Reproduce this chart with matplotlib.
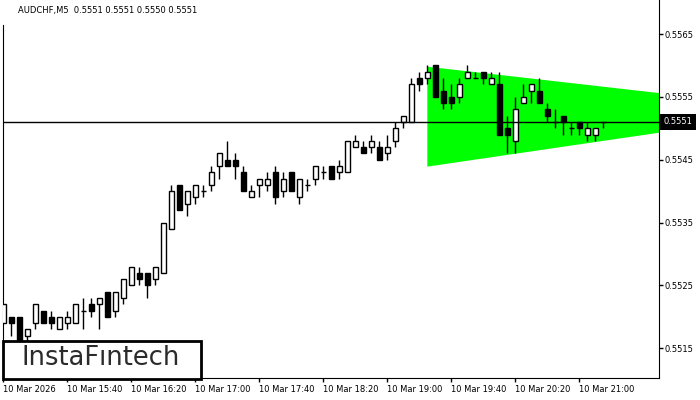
import matplotlib
matplotlib.use('Agg')
import matplotlib.pyplot as plt
import matplotlib.patches as patches
from matplotlib.transforms import blended_transform_factory

# AUDCHF M5 bars (15:00 .. 21:15)
opens = [0.5519, 0.5520, 0.5520, 0.5517, 0.5519, 0.5521, 0.5520, 0.5518, 0.5519, 0.5519,
         0.5521, 0.5522, 0.5522, 0.5524, 0.5521, 0.5523, 0.5525, 0.5527, 0.5527, 0.5526,
         0.5527, 0.5534, 0.5541, 0.5538, 0.5539, 0.5540, 0.5541, 0.5544, 0.5545, 0.5545,
         0.5543, 0.5539, 0.5541, 0.5541, 0.5543, 0.5540, 0.5543, 0.5539, 0.5541, 0.5542,
         0.5543, 0.5544, 0.5543, 0.5543, 0.5547, 0.5547, 0.5547, 0.5547, 0.5546, 0.5548,
         0.5551, 0.5551, 0.5558, 0.5558, 0.5560, 0.5556, 0.5555, 0.5555, 0.5558, 0.5558,
         0.5559, 0.5557, 0.5557, 0.5550, 0.5548, 0.5554, 0.5556, 0.5556, 0.5553, 0.5551,
         0.5552, 0.5550, 0.5551, 0.5549, 0.5549, 0.5551]
highs = [0.5522, 0.5520, 0.5520, 0.5518, 0.5522, 0.5521, 0.5521, 0.5520, 0.5521, 0.5522,
         0.5523, 0.5523, 0.5523, 0.5524, 0.5524, 0.5526, 0.5528, 0.5528, 0.5527, 0.5528,
         0.5535, 0.5541, 0.5541, 0.5540, 0.5541, 0.5541, 0.5544, 0.5546, 0.5548, 0.5546,
         0.5544, 0.5541, 0.5542, 0.5543, 0.5544, 0.5543, 0.5543, 0.5542, 0.5542, 0.5544,
         0.5544, 0.5544, 0.5545, 0.5548, 0.5549, 0.5548, 0.5549, 0.5548, 0.5549, 0.5551,
         0.5552, 0.5558, 0.5559, 0.5560, 0.5560, 0.5558, 0.5557, 0.5558, 0.5560, 0.5559,
         0.5559, 0.5559, 0.5559, 0.5552, 0.5555, 0.5557, 0.5557, 0.5558, 0.5554, 0.5553,
         0.5552, 0.5551, 0.5551, 0.5551, 0.5550, 0.5551]
lows = [0.5519, 0.5517, 0.5514, 0.5516, 0.5518, 0.5519, 0.5518, 0.5518, 0.5518, 0.5519,
        0.5518, 0.5520, 0.5518, 0.5520, 0.5520, 0.5522, 0.5525, 0.5525, 0.5523, 0.5525,
        0.5527, 0.5534, 0.5537, 0.5536, 0.5538, 0.5539, 0.5540, 0.5542, 0.5544, 0.5542,
        0.5540, 0.5539, 0.5539, 0.5540, 0.5538, 0.5539, 0.5540, 0.5538, 0.5540, 0.5541,
        0.5542, 0.5542, 0.5542, 0.5543, 0.5547, 0.5546, 0.5546, 0.5545, 0.5545, 0.5547,
        0.5550, 0.5551, 0.5556, 0.5557, 0.5555, 0.5553, 0.5553, 0.5554, 0.5558, 0.5558,
        0.5557, 0.5557, 0.5549, 0.5546, 0.5546, 0.5554, 0.5554, 0.5554, 0.5551, 0.5550,
        0.5549, 0.5549, 0.5549, 0.5548, 0.5548, 0.5550]
closes = [0.5522, 0.5519, 0.5515, 0.5518, 0.5522, 0.5519, 0.5519, 0.5520, 0.5520, 0.5522,
          0.5521, 0.5521, 0.5523, 0.5520, 0.5524, 0.5526, 0.5528, 0.5526, 0.5525, 0.5528,
          0.5535, 0.5540, 0.5537, 0.5540, 0.5541, 0.5540, 0.5543, 0.5546, 0.5544, 0.5544,
          0.5540, 0.5540, 0.5542, 0.5542, 0.5539, 0.5542, 0.5540, 0.5542, 0.5541, 0.5544,
          0.5543, 0.5542, 0.5544, 0.5548, 0.5548, 0.5546, 0.5548, 0.5545, 0.5547, 0.5550,
          0.5552, 0.5557, 0.5557, 0.5559, 0.5555, 0.5554, 0.5554, 0.5557, 0.5559, 0.5558,
          0.5558, 0.5558, 0.5549, 0.5549, 0.5553, 0.5555, 0.5557, 0.5554, 0.5552, 0.5551,
          0.5551, 0.5550, 0.5550, 0.5550, 0.5550, 0.5551]

# time axis labels (one every 8 bars)
tick_bars = [0, 8, 16, 24, 32, 40, 48, 56, 64, 72]
tick_labels = ["10 Mar 2026", "10 Mar 15:40", "10 Mar 16:20", "10 Mar 17:00", "10 Mar 17:40",
               "10 Mar 18:20", "10 Mar 19:00", "10 Mar 19:40", "10 Mar 20:20", "10 Mar 21:00"]
price_ticks = [0.5515, 0.5525, 0.5535, 0.5545, 0.5555, 0.5565]

# symmetrical triangle (left edge and right edge of the chart)
tri_x = [53, 82]
tri_top = [0.55598, 0.55556]
tri_bot = [0.55439, 0.55493]

last_price = 0.5551
title = "AUDCHF,M5  0.5551 0.5551 0.5550 0.5551"

plt.rcParams['font.family'] = 'DejaVu Sans'
fig = plt.figure(figsize=(7, 4), dpi=100)
ax = fig.add_axes([3 / 700, 22 / 400, 656 / 700, 378 / 400])
ax.set_xlim(-0.04, 81.96)
ax.set_ylim(0.551027, 0.557041)

# green triangle
ax.fill([tri_x[0], tri_x[1], tri_x[1], tri_x[0]],
        [tri_top[0], tri_top[1], tri_bot[1], tri_bot[0]],
        color='#00ff00', lw=0, zorder=1)

# candles
w = 0.6
for i in range(len(opens)):
    o, h, l, c = opens[i], highs[i], lows[i], closes[i]
    ax.vlines(i, l, h, color='black', lw=1, zorder=2)
    if abs(c - o) < 1e-9:
        ax.hlines(o, i - w / 2, i + w / 2, color='black', lw=1, zorder=3)
    else:
        body = patches.Rectangle((i - w / 2, min(o, c)), w, abs(c - o),
                                 facecolor='white' if c > o else 'black',
                                 edgecolor='black', lw=1, zorder=3)
        ax.add_patch(body)

# bid line
ax.axhline(last_price, color='black', lw=1, zorder=4)

# axes look
ax.spines['top'].set_visible(False)
ax.spines['left'].set_bounds(0.551027, 0.556643)
ax.yaxis.tick_right()
ax.set_yticks(price_ticks)
ax.set_yticklabels([f"{p:.4f}" for p in price_ticks])
ax.set_xticks(tick_bars)
ax.set_xticklabels(tick_labels)
for lab in ax.get_xticklabels():
    lab.set_horizontalalignment('left')
ax.tick_params(axis='both', labelsize=6, length=3, width=1, color='black', labelcolor='black', pad=2)
ax.tick_params(axis='y', pad=1.2)

# current price box on the right scale
trans = blended_transform_factory(ax.transAxes, ax.transData)
ax.text(1.007, last_price, f"{last_price:.4f}", transform=trans, ha='left', va='center',
        fontsize=6, color='white', clip_on=False, zorder=6,
        bbox=dict(boxstyle='square,pad=0.4', facecolor='black', edgecolor='none'))

# title
fig.text(18 / 700, 1 - 10 / 400, title, fontsize=6, ha='left', va='center', color='black')

# logo box
logo = patches.Rectangle((3 / 700, 21 / 400), 198 / 700, 38 / 400, transform=fig.transFigure,
                         facecolor='white', edgecolor='black', lw=2, zorder=10)
fig.add_artist(logo)
fig.text(101 / 700, 1 - 358 / 400, "InstaFıntech", fontsize=18.5, ha='center', va='center',
         color='#2b2b2b', zorder=11)

fig.savefig('out.png', dpi=100)
